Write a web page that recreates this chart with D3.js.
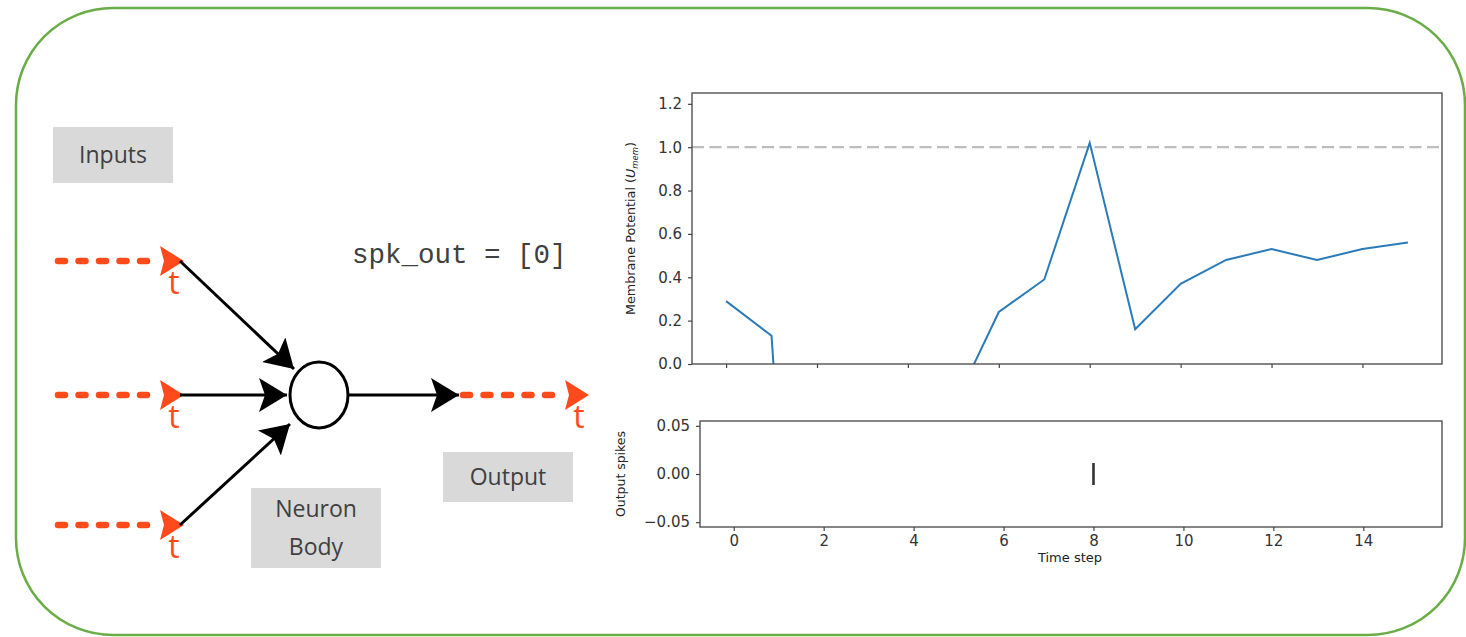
<!DOCTYPE html>
<html>
<head>
  <meta charset="utf-8" />
  <title>Leaky neuron - spike output</title>
  <script type="text/javascript" src="https://cdn.jsdelivr.net/npm/d3@7/dist/d3.min.js"></script>
  <style>
    body{ margin:0; background:white; }
  </style>
</head>
<body>
  <script type="text/javascript">
    // - - - - - DATA - - - - - //
    var timeSteps = [0, 1, 2, 3, 4, 5, 6, 7, 8, 9, 10, 11, 12, 13, 14, 15];
    var memValues = [0.29, 0.13, -3.0, -2.2, -1.0, -0.2, 0.24, 0.39, 1.02, 0.16, 0.37, 0.48, 0.53, 0.48, 0.53, 0.56];
    var threshold = 1.0;
    var spikeTimes = [8];
    var spikeValues = [0];
    var memTicks = [0, 0.2, 0.4, 0.6, 0.8, 1.0, 1.2];
    var spikeTicks = [-0.05, 0, 0.05];
    var timeTicks = [0, 2, 4, 6, 8, 10, 12, 14];
    var inputRows = [261, 395, 525];

    // - - - - - CANVAS - - - - - //
    var w = 1466, h = 637;
    var svg = d3.select("body").append("svg")
      .attr("width", w).attr("height", h);

    var orange = "#ff4a1c";
    var boxFill = "#d9d9d9";
    var txtCol = "#404040";
    var sans = "'Open Sans', 'Noto Sans', sans-serif";
    var mpl = "'DejaVu Sans', sans-serif";

    // outer green frame
    svg.append("rect")
      .attr("x", 16).attr("y", 8)
      .attr("width", 1449).attr("height", 627)
      .attr("rx", 97).attr("ry", 97)
      .attr("fill", "none")
      .attr("stroke", "#6aac46")
      .attr("stroke-width", 2.5);

    // - - - - - DIAGRAM - - - - - //
    var defs = svg.append("defs");
    defs.append("marker")
      .attr("id", "blackHead")
      .attr("viewBox", "0 0 28 34")
      .attr("refX", 28).attr("refY", 17)
      .attr("markerWidth", 28).attr("markerHeight", 34)
      .attr("markerUnits", "userSpaceOnUse")
      .attr("orient", "auto")
      .append("path")
      .attr("d", "M0,0 L28,17 L0,34 L6,17 Z")
      .attr("fill", "black");

    // gray label boxes
    var boxes = [
      {x: 53, y: 127, w: 120, h: 56, lines: ["Inputs"]},
      {x: 251, y: 488, w: 130, h: 80, lines: ["Neuron", "Body"]},
      {x: 443, y: 452, w: 130, h: 50, lines: ["Output"]}
    ];
    boxes.forEach(function(b){
      svg.append("rect")
        .attr("x", b.x).attr("y", b.y)
        .attr("width", b.w).attr("height", b.h)
        .attr("fill", boxFill);
      b.lines.forEach(function(t, i){
        var n = b.lines.length;
        svg.append("text")
          .attr("x", b.x + b.w/2)
          .attr("y", b.y + b.h/2 + 8 + (i - (n-1)/2) * 38)
          .attr("text-anchor", "middle")
          .attr("font-family", sans)
          .attr("font-size", "23px")
          .attr("fill", txtCol)
          .text(t);
      });
    });

    // spike trains (inputs and output)
    var drawTrain = function(x0, y){
      svg.append("line")
        .attr("x1", x0).attr("x2", x0 + 93)
        .attr("y1", y).attr("y2", y)
        .attr("stroke", orange)
        .attr("stroke-width", 6.5)
        .attr("stroke-linecap", "round")
        .attr("stroke-dasharray", "7,13.5");
      svg.append("path")
        .attr("d", "M" + (x0+102) + "," + (y-15) + " L" + (x0+126) + "," + y +
                   " L" + (x0+102) + "," + (y+15) + " L" + (x0+106) + "," + y + " Z")
        .attr("fill", orange);
      svg.append("text")
        .attr("x", x0 + 116).attr("y", y + 33)
        .attr("text-anchor", "middle")
        .attr("font-family", sans)
        .attr("font-size", "32px")
        .attr("fill", orange)
        .text("t");
    };
    inputRows.forEach(function(y){ drawTrain(58, y); });
    drawTrain(463, 395);

    // connections into the neuron
    var targets = [[294, 369], [287, 395], [290, 424]];
    inputRows.forEach(function(y, i){
      svg.append("line")
        .attr("x1", 180).attr("y1", y)
        .attr("x2", targets[i][0]).attr("y2", targets[i][1])
        .attr("stroke", "black")
        .attr("stroke-width", 3)
        .attr("marker-end", "url(#blackHead)");
    });
    // neuron body
    svg.append("ellipse")
      .attr("cx", 319).attr("cy", 395)
      .attr("rx", 29).attr("ry", 33)
      .attr("fill", "white")
      .attr("stroke", "black")
      .attr("stroke-width", 3);
    // output connection
    svg.append("line")
      .attr("x1", 348).attr("y1", 395)
      .attr("x2", 459).attr("y2", 395)
      .attr("stroke", "black")
      .attr("stroke-width", 3)
      .attr("marker-end", "url(#blackHead)");

    svg.append("text")
      .attr("x", 352).attr("y", 263)
      .attr("font-family", "'Liberation Mono', 'DejaVu Sans Mono', monospace")
      .attr("font-size", "27.5px")
      .attr("fill", txtCol)
      .text("spk_out = [0]");

    // - - - - - MEMBRANE POTENTIAL PLOT - - - - - //
    var axCol = "#444";
    var tickFont = "15px";
    var memBox = {l: 692, r: 1442, t: 93, b: 364};
    var xMem = d3.scaleLinear().domain([-0.75, 15.75]).range([memBox.l, memBox.r]);
    var yMem = d3.scaleLinear().domain([0, 1.25]).range([memBox.b, memBox.t]);

    defs.append("clipPath").attr("id", "clipMem")
      .append("rect")
      .attr("x", memBox.l).attr("y", memBox.t)
      .attr("width", memBox.r - memBox.l).attr("height", memBox.b - memBox.t);

    var gMem = svg.append("g");
    gMem.append("line")
      .attr("x1", memBox.l).attr("x2", memBox.r)
      .attr("y1", yMem(threshold)).attr("y2", yMem(threshold))
      .attr("stroke", "#bdbdbd")
      .attr("stroke-width", 2.2)
      .attr("stroke-dasharray", "12,5.5");

    gMem.append("path")
      .datum(timeSteps)
      .attr("clip-path", "url(#clipMem)")
      .attr("fill", "none")
      .attr("stroke", "#2b7bba")
      .attr("stroke-width", 2)
      .attr("d", d3.line()
        .x(function(d){ return xMem(d); })
        .y(function(d, i){ return yMem(memValues[i]); }));

    var yAxMem = gMem.append("g")
      .attr("transform", "translate(" + memBox.l + ",0)")
      .call(d3.axisLeft(yMem).tickValues(memTicks).tickFormat(d3.format(".1f"))
        .tickSize(4).tickPadding(6));
    var xAxMem = gMem.append("g")
      .attr("transform", "translate(0," + memBox.b + ")")
      .call(d3.axisBottom(xMem).tickValues(timeTicks).tickFormat("").tickSize(4));
    [yAxMem, xAxMem].forEach(function(a){
      a.select(".domain").remove();
      a.selectAll("line").attr("stroke", axCol).attr("stroke-width", 1.2);
      a.selectAll("text").attr("font-family", mpl).attr("font-size", tickFont).attr("fill", "#333");
    });
    gMem.append("rect")
      .attr("x", memBox.l).attr("y", memBox.t)
      .attr("width", memBox.r - memBox.l).attr("height", memBox.b - memBox.t)
      .attr("fill", "none").attr("stroke", axCol).attr("stroke-width", 1.3);

    svg.append("text")
      .attr("transform", "translate(635," + ((memBox.t + memBox.b)/2) + ") rotate(-90)")
      .attr("text-anchor", "middle")
      .attr("font-family", mpl)
      .attr("font-size", "12px")
      .attr("fill", "#222")
      .attr("textLength", 173)
      .attr("lengthAdjust", "spacingAndGlyphs")
      .html("Membrane Potential (<tspan font-style='italic'>U</tspan><tspan font-style='italic' font-size='8px' dy='3'>mem</tspan><tspan dy='-3'>)</tspan>");

    // - - - - - OUTPUT SPIKES PLOT - - - - - //
    var spkBox = {l: 700, r: 1442, t: 421, b: 527};
    var xSpk = d3.scaleLinear().domain([-0.75, 15.75]).range([spkBox.l, spkBox.r]);
    var ySpk = d3.scaleLinear().domain([-0.055, 0.055]).range([spkBox.b, spkBox.t]);

    var gSpk = svg.append("g");
    gSpk.selectAll(".spike")
      .data(spikeTimes)
      .enter().append("line")
      .attr("class", "spike")
      .attr("x1", function(d){ return xSpk(d); })
      .attr("x2", function(d){ return xSpk(d); })
      .attr("y1", function(d, i){ return ySpk(spikeValues[i]) - 11; })
      .attr("y2", function(d, i){ return ySpk(spikeValues[i]) + 11; })
      .attr("stroke", "#333")
      .attr("stroke-width", 2.6);

    var yAxSpk = gSpk.append("g")
      .attr("transform", "translate(" + spkBox.l + ",0)")
      .call(d3.axisLeft(ySpk).tickValues(spikeTicks)
        .tickFormat(function(d){ return d3.format(".2f")(d).replace("-", "\u2212"); })
        .tickSize(4).tickPadding(6));
    var xAxSpk = gSpk.append("g")
      .attr("transform", "translate(0," + spkBox.b + ")")
      .call(d3.axisBottom(xSpk).tickValues(timeTicks).tickFormat(d3.format("d"))
        .tickSize(4).tickPadding(4));
    [yAxSpk, xAxSpk].forEach(function(a){
      a.select(".domain").remove();
      a.selectAll("line").attr("stroke", axCol).attr("stroke-width", 1.2);
      a.selectAll("text").attr("font-family", mpl).attr("font-size", tickFont).attr("fill", "#333");
    });
    gSpk.append("rect")
      .attr("x", spkBox.l).attr("y", spkBox.t)
      .attr("width", spkBox.r - spkBox.l).attr("height", spkBox.b - spkBox.t)
      .attr("fill", "none").attr("stroke", axCol).attr("stroke-width", 1.3);

    svg.append("text")
      .attr("transform", "translate(625," + ((spkBox.t + spkBox.b)/2) + ") rotate(-90)")
      .attr("text-anchor", "middle")
      .attr("font-family", mpl)
      .attr("font-size", "12px")
      .attr("fill", "#222")
      .attr("textLength", 86)
      .attr("lengthAdjust", "spacingAndGlyphs")
      .text("Output spikes");

    svg.append("text")
      .attr("x", 1070).attr("y", 562)
      .attr("text-anchor", "middle")
      .attr("font-family", mpl)
      .attr("font-size", "13px")
      .attr("fill", "#222")
      .text("Time step");
  </script>
</body>
</html>
